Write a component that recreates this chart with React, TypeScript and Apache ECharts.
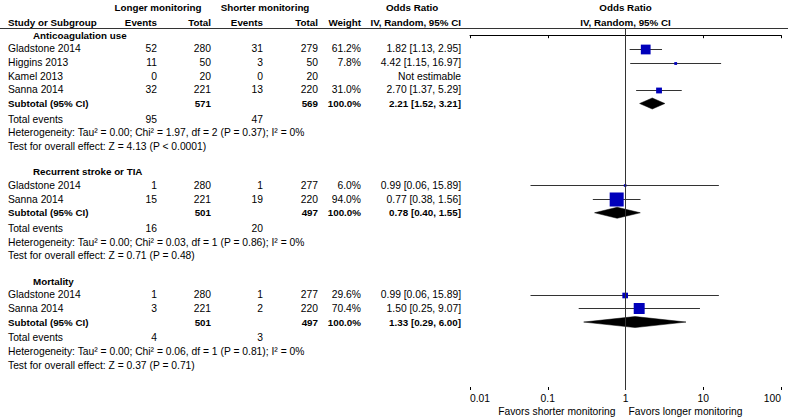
import React, { useEffect, useRef } from "react";
import * as echarts from "echarts";

// ---------- data ----------
const groupNames = ["Anticoagulation use", "Recurrent stroke or TIA", "Mortality"];

const studyGroup = [0, 0, 0, 0, 1, 1, 2, 2];
const studyNames = [
  "Gladstone 2014", "Higgins 2013", "Kamel 2013", "Sanna 2014",
  "Gladstone 2014", "Sanna 2014",
  "Gladstone 2014", "Sanna 2014",
];
const longerEvents = [52, 11, 0, 32, 1, 15, 1, 3];
const longerTotal = [280, 50, 20, 221, 280, 221, 280, 221];
const shorterEvents = [31, 3, 0, 13, 1, 19, 1, 2];
const shorterTotal = [279, 50, 20, 220, 277, 220, 277, 220];
const weights: (number | null)[] = [61.2, 7.8, null, 31.0, 6.0, 94.0, 29.6, 70.4];
const oddsRatio: (number | null)[] = [1.82, 4.42, null, 2.70, 0.99, 0.77, 0.99, 1.50];
const ciLow: (number | null)[] = [1.13, 1.15, null, 1.37, 0.06, 0.38, 0.06, 0.25];
const ciHigh: (number | null)[] = [2.95, 16.97, null, 5.29, 15.89, 1.56, 15.89, 9.07];

const subLongerTotal = [571, 501, 501];
const subShorterTotal = [569, 497, 497];
const subWeight = [100.0, 100.0, 100.0];
const subOR = [2.21, 0.78, 1.33];
const subLow = [1.52, 0.40, 0.29];
const subHigh = [3.21, 1.55, 6.00];
const totalLongerEvents = [95, 16, 4];
const totalShorterEvents = [47, 20, 3];
const heterogeneity = [
  "Heterogeneity: Tau\u00b2 = 0.00; Chi\u00b2 = 1.97, df = 2 (P = 0.37); I\u00b2 = 0%",
  "Heterogeneity: Tau\u00b2 = 0.00; Chi\u00b2 = 0.03, df = 1 (P = 0.86); I\u00b2 = 0%",
  "Heterogeneity: Tau\u00b2 = 0.00; Chi\u00b2 = 0.06, df = 1 (P = 0.81); I\u00b2 = 0%",
];
const overallEffect = [
  "Test for overall effect: Z = 4.13 (P < 0.0001)",
  "Test for overall effect: Z = 0.71 (P = 0.48)",
  "Test for overall effect: Z = 0.37 (P = 0.71)",
];
const tickLabels = ["0.01", "0.1", "1", "10", "100"];

// ---------- layout ----------
const W = 788;
const H = 420;
const GRID_LEFT = 470;
const GRID_RIGHT = 7;
const GRID_TOP = 28;
const GRID_BOTTOM = 30;
const Y0 = 35.2;
const LINE = 13.66;
const FONT_FAMILY = '"Liberation Sans", Arial, sans-serif';
const FS = 10.3;
const FS_BOLD = 9.8;
const NORMAL = `${FS}px ${FONT_FAMILY}`;
const BOLD = `bold ${FS_BOLD}px ${FONT_FAMILY}`;
const COL = {
  name: 8,
  groupName: 33,
  lEvents: 157,
  lTotal: 211,
  sEvents: 263,
  sTotal: 318,
  weight: 361,
  or: 461,
  orLeft: 386,
};
const BLUE = "#0000BB";
const DARK = "#333333";

function fmt2(v: number) {
  return v.toFixed(2);
}

export default function App() {
  const ref = useRef<HTMLDivElement>(null);

  useEffect(() => {
    if (!ref.current) return;
    const chart = echarts.init(ref.current, null, { renderer: "svg" });

    const texts: any[] = [];
    const addText = (
      text: string,
      x: number,
      y: number,
      align: string,
      bold = false
    ) => {
      texts.push({
        type: "text",
        silent: true,
        style: {
          text,
          x,
          y,
          font: bold ? BOLD : NORMAL,
          fill: "#000",
          textAlign: align,
          textVerticalAlign: "middle",
          align,
          verticalAlign: "middle",
        },
      });
    };

    // headers
    addText("Longer monitoring", 158, 7, "center", true);
    addText("Shorter monitoring", 265, 7, "center", true);
    addText("Odds Ratio", COL.orLeft, 7, "left", true);
    addText("Study or Subgroup", COL.name, 22, "left", true);
    addText("Events", COL.lEvents, 22, "right", true);
    addText("Total", COL.lTotal, 22, "right", true);
    addText("Events", COL.sEvents, 22, "right", true);
    addText("Total", COL.sTotal, 22, "right", true);
    addText("Weight", COL.weight, 22, "right", true);
    addText("IV, Random, 95% CI", COL.or, 22, "right", true);

    const plotW = W - GRID_LEFT - GRID_RIGHT;
    const xOne = GRID_LEFT + (2 / 4) * plotW;
    addText("Odds Ratio", xOne, 7, "center", true);
    addText("IV, Random, 95% CI", xOne, 22, "center", true);
    addText("Favors shorter monitoring", xOne - 10, 411.5, "right");
    addText("Favors longer monitoring", xOne + 3, 411.5, "left");

    // rows
    const seriesData: any[] = [];
    let idx = 0;
    const rowY = (i: number, off = 0) => Y0 + i * LINE + off;
    groupNames.forEach((g, gi) => {
      addText(g, COL.groupName, rowY(idx), "left", true);
      idx++;
      studyNames.forEach((name, si) => {
        if (studyGroup[si] !== gi) return;
        const y = rowY(idx);
        addText(name, COL.name, y, "left");
        addText(String(longerEvents[si]), COL.lEvents, y, "right");
        addText(String(longerTotal[si]), COL.lTotal, y, "right");
        addText(String(shorterEvents[si]), COL.sEvents, y, "right");
        addText(String(shorterTotal[si]), COL.sTotal, y, "right");
        const w = weights[si];
        const o = oddsRatio[si];
        if (w !== null) addText(w.toFixed(1) + "%", COL.weight, y, "right");
        if (o !== null && ciLow[si] !== null && ciHigh[si] !== null) {
          addText(
            `${fmt2(o)} [${fmt2(ciLow[si] as number)}, ${fmt2(ciHigh[si] as number)}]`,
            COL.or,
            y,
            "right"
          );
          seriesData.push([idx, o, ciLow[si], ciHigh[si], w, 0]);
        } else {
          addText("Not estimable", COL.or, y, "right");
        }
        idx++;
      });
      // subtotal
      const ys = rowY(idx);
      addText("Subtotal (95% CI)", COL.name, ys, "left", true);
      addText(String(subLongerTotal[gi]), COL.lTotal, ys, "right", true);
      addText(String(subShorterTotal[gi]), COL.sTotal, ys, "right", true);
      addText(subWeight[gi].toFixed(1) + "%", COL.weight, ys, "right", true);
      addText(
        `${fmt2(subOR[gi])} [${fmt2(subLow[gi])}, ${fmt2(subHigh[gi])}]`,
        COL.or,
        ys,
        "right",
        true
      );
      seriesData.push([idx, subOR[gi], subLow[gi], subHigh[gi], 100, 1]);
      idx++;
      const yt = rowY(idx, 2);
      addText("Total events", COL.name, yt, "left");
      addText(String(totalLongerEvents[gi]), COL.lEvents, yt, "right");
      addText(String(totalShorterEvents[gi]), COL.sEvents, yt, "right");
      idx++;
      addText(heterogeneity[gi], COL.name, rowY(idx, 2), "left");
      idx++;
      addText(overallEffect[gi], COL.name, rowY(idx, 2), "left");
      idx++;
      idx++; // blank line
    });

    const yMin = (GRID_TOP - Y0) / LINE;
    const yMax = (H - GRID_BOTTOM - Y0) / LINE;

    const logAxisBase = {
      type: "log",
      logBase: 10,
      min: 0.01,
      max: 100,
      gridIndex: 0,
      position: "bottom",
      splitLine: { show: false },
      minorTick: { show: false },
    };

    const option: any = {
      animation: false,
      backgroundColor: "#fff",
      grid: {
        left: GRID_LEFT,
        right: GRID_RIGHT,
        top: GRID_TOP,
        bottom: GRID_BOTTOM,
        containLabel: false,
      },
      xAxis: [
        {
          ...logAxisBase,
          axisLine: { show: true, lineStyle: { color: "#000", width: 1 } },
          axisTick: { show: true, length: 3, lineStyle: { color: "#000" } },
          axisLabel: {
            show: true,
            color: "#000",
            fontSize: FS,
            fontFamily: FONT_FAMILY,
            margin: 3,
            alignMinLabel: "left",
            alignMaxLabel: "right",
            formatter: (_v: number, i: number) => tickLabels[i] ?? String(_v),
          },
        },
        {
          ...logAxisBase,
          axisLine: { show: false },
          axisTick: { show: true, inside: true, length: 3, lineStyle: { color: "#000" } },
          axisLabel: { show: false },
        },
      ],
      yAxis: {
        type: "value",
        min: yMin,
        max: yMax,
        inverse: true,
        show: false,
      },
      series: [
        {
          type: "custom",
          xAxisIndex: 0,
          yAxisIndex: 0,
          silent: true,
          encode: { x: [1, 2, 3], y: 0 },
          data: seriesData,
          markLine: {
            silent: true,
            symbol: "none",
            label: { show: false },
            lineStyle: { color: DARK, type: "solid", width: 1 },
            data: [{ xAxis: 1 }],
          },
          renderItem: (_params: any, api: any) => {
            const y = api.value(0);
            const est = api.value(1);
            const lo = api.value(2);
            const hi = api.value(3);
            const w = api.value(4);
            const kind = api.value(5);
            const pE = api.coord([est, y]);
            const pL = api.coord([lo, y]);
            const pH = api.coord([hi, y]);
            if (kind === 1) {
              const hh = 5.5;
              return {
                type: "polygon",
                shape: {
                  points: [
                    [pL[0], pE[1]],
                    [pE[0], pE[1] - hh],
                    [pH[0], pE[1]],
                    [pE[0], pE[1] + hh],
                  ],
                },
                style: { fill: "#000", stroke: "#000", lineWidth: 0.5 },
              };
            }
            const s = Math.max(2, 0.13 * w + 1.8);
            const cy = Math.round(pE[1]) + 0.5;
            return {
              type: "group",
              children: [
                {
                  type: "line",
                  shape: { x1: pL[0], y1: cy, x2: pH[0], y2: cy },
                  style: { stroke: DARK, lineWidth: 1 },
                },
                {
                  type: "rect",
                  shape: { x: pE[0] - s / 2, y: cy - s / 2, width: s, height: s },
                  style: { fill: BLUE },
                },
              ],
            };
          },
        },
      ],
      graphic: [
        {
          type: "line",
          silent: true,
          shape: { x1: 0, y1: GRID_TOP + 0.5, x2: W, y2: GRID_TOP + 0.5 },
          style: { stroke: DARK, lineWidth: 1 },
        },
        ...texts,
      ],
    };

    chart.setOption(option);
    return () => chart.dispose();
  }, []);

  return (
    <div
      ref={ref}
      style={{ position: "absolute", left: 0, top: 0, width: W, height: H, background: "#fff" }}
    />
  );
}
